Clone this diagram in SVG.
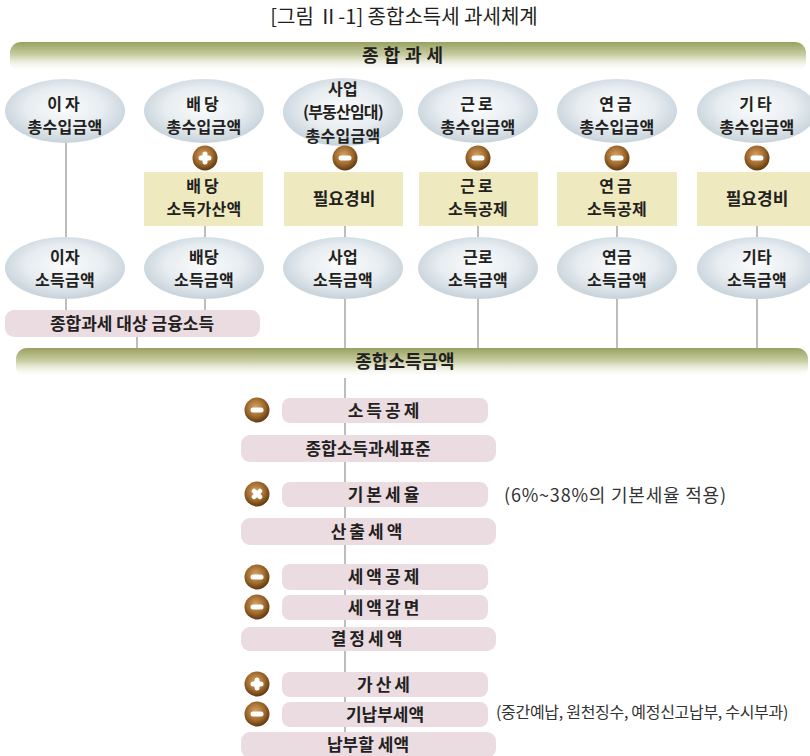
<svg xmlns="http://www.w3.org/2000/svg" width="810" height="756" viewBox="0 0 810 756">
<defs>
<linearGradient id="olive" x1="0" y1="0" x2="0" y2="1">
<stop offset="0" stop-color="#98A161"/>
<stop offset="0.45" stop-color="#CBD0A6"/>
<stop offset="1" stop-color="#FFFFFF" stop-opacity="0"/>
</linearGradient>
<radialGradient id="ell" cx="0.5" cy="0.45" r="0.6">
<stop offset="0" stop-color="#FBFCFD"/>
<stop offset="0.55" stop-color="#E6ECF0"/>
<stop offset="1" stop-color="#BFCCD5"/>
</radialGradient>
<radialGradient id="coin" cx="0.45" cy="0.4" r="0.6">
<stop offset="0" stop-color="#D7A569"/>
<stop offset="0.6" stop-color="#A06A2C"/>
<stop offset="1" stop-color="#5E3810"/>
</radialGradient>
<g id="minus"><circle r="12.5" fill="url(#coin)"/><rect x="-6.5" y="-2.5" width="13" height="5" rx="2.5" fill="#fff"/></g>
<g id="plus"><circle r="12.5" fill="url(#coin)"/><rect x="-6.5" y="-2.5" width="13" height="5" rx="2.5" fill="#fff"/><rect x="-2.5" y="-6.5" width="5" height="13" rx="2.5" fill="#fff"/></g>
<g id="times"><circle r="12.5" fill="url(#coin)"/><g transform="rotate(45)"><rect x="-6.5" y="-2.3" width="13" height="4.6" rx="2.3" fill="#fff"/><rect x="-2.3" y="-6.5" width="4.6" height="13" rx="2.3" fill="#fff"/></g></g>
</defs>
<style>
text{font-family:"Noto Sans CJK KR","Noto Sans",sans-serif;fill:#231F20;text-anchor:middle}
.t{font-size:17px;font-weight:bold}
.m{font-size:16px;font-weight:bold;letter-spacing:0.3px}
.ti{font-size:20px;font-weight:normal}
.bar{font-size:18px;font-weight:bold}
.note{font-weight:normal;text-anchor:start;fill:#333}
.sp{letter-spacing:3px}
.e{fill:url(#ell)}
.y{fill:#EEE9BF}
.p{fill:#EBDCE2}
.ln{stroke:#9A9A9A;stroke-width:1.3;fill:none}
</style>

<text class="ti" x="404" y="24">[그림 Ⅱ-1] 종합소득세 과세체계</text>

<g id="connectors">
<line class="ln" x1="66" y1="142" x2="66" y2="238"/>
<line class="ln" x1="205" y1="226" x2="205" y2="238"/>
<line class="ln" x1="345" y1="226" x2="345" y2="238"/>
<line class="ln" x1="478" y1="226" x2="478" y2="238"/>
<line class="ln" x1="617" y1="226" x2="617" y2="238"/>
<line class="ln" x1="757" y1="226" x2="757" y2="238"/>
<line class="ln" x1="66" y1="298" x2="66" y2="311"/>
<line class="ln" x1="205" y1="298" x2="205" y2="311"/>
<line class="ln" x1="137" y1="337" x2="137" y2="350"/>
<line class="ln" x1="345" y1="298" x2="345" y2="350"/>
<line class="ln" x1="478" y1="298" x2="478" y2="350"/>
<line class="ln" x1="617" y1="298" x2="617" y2="350"/>
<line class="ln" x1="757" y1="298" x2="757" y2="350"/>
<line class="ln" x1="345" y1="378" x2="345" y2="740"/>
</g>

<g id="bar-top"><rect x="10" y="42" width="796" height="30" rx="11" fill="url(#olive)"/><text class="bar" x="405" y="62" style="letter-spacing:5px">종합과세</text></g>

<g id="n-ija1"><ellipse class="e" cx="65" cy="111" rx="60" ry="32"/><text class="m" x="65" y="110"><tspan class="sp">이자</tspan><tspan x="65" dy="23.4">총수입금액</tspan></text></g>
<g id="n-bae1"><ellipse class="e" cx="204" cy="111" rx="60" ry="32"/><text class="m" x="204" y="110"><tspan class="sp">배당</tspan><tspan x="204" dy="23.4">총수입금액</tspan></text></g>
<g id="n-sa1"><ellipse class="e" cx="343" cy="112" rx="60" ry="34"/><text class="m" x="343" y="95">사업<tspan x="343" dy="23.4" style="letter-spacing:-0.8px">(부동산임대)</tspan><tspan x="343" dy="23.4">총수입금액</tspan></text></g>
<g id="n-geun1"><ellipse class="e" cx="478" cy="111" rx="60" ry="32"/><text class="m" x="478" y="110"><tspan class="sp">근로</tspan><tspan x="478" dy="23.4">총수입금액</tspan></text></g>
<g id="n-yeon1"><ellipse class="e" cx="617" cy="111" rx="60" ry="32"/><text class="m" x="617" y="110"><tspan class="sp">연금</tspan><tspan x="617" dy="23.4">총수입금액</tspan></text></g>
<g id="n-gita1"><ellipse class="e" cx="757" cy="111" rx="60" ry="32"/><text class="m" x="757" y="110"><tspan class="sp">기타</tspan><tspan x="757" dy="23.4">총수입금액</tspan></text></g>

<g id="op-bae"><use href="#plus" x="205" y="158"/></g>
<g id="op-sa"><use href="#minus" x="345" y="158"/></g>
<g id="op-geun"><use href="#minus" x="478" y="158"/></g>
<g id="op-yeon"><use href="#minus" x="617" y="158"/></g>
<g id="op-gita"><use href="#minus" x="757" y="158"/></g>

<g id="n-bae-add"><rect class="y" x="144" y="172" width="119" height="54"/><text class="m" x="204" y="192"><tspan class="sp">배당</tspan><tspan x="204" dy="23.4">소득가산액</tspan></text></g>
<g id="n-sa-exp"><rect class="y" x="284" y="172" width="119" height="54"/><text class="t" x="344" y="205">필요경비</text></g>
<g id="n-geun-ded"><rect class="y" x="419" y="172" width="119" height="54"/><text class="m" x="478" y="192"><tspan class="sp">근로</tspan><tspan x="478" dy="23.4">소득공제</tspan></text></g>
<g id="n-yeon-ded"><rect class="y" x="557" y="172" width="120" height="54"/><text class="m" x="617" y="192"><tspan class="sp">연금</tspan><tspan x="617" dy="23.4">소득공제</tspan></text></g>
<g id="n-gita-exp"><rect class="y" x="697" y="172" width="113" height="54"/><text class="t" x="757" y="205">필요경비</text></g>

<g id="n-ija2"><ellipse class="e" cx="65" cy="268" rx="60" ry="31"/><text class="m" x="65" y="263">이자<tspan x="65" dy="23.4">소득금액</tspan></text></g>
<g id="n-bae2"><ellipse class="e" cx="204" cy="268" rx="60" ry="31"/><text class="m" x="204" y="263">배당<tspan x="204" dy="23.4">소득금액</tspan></text></g>
<g id="n-sa2"><ellipse class="e" cx="343" cy="268" rx="60" ry="31"/><text class="m" x="343" y="263">사업<tspan x="343" dy="23.4">소득금액</tspan></text></g>
<g id="n-geun2"><ellipse class="e" cx="478" cy="268" rx="60" ry="31"/><text class="m" x="478" y="263">근로<tspan x="478" dy="23.4">소득금액</tspan></text></g>
<g id="n-yeon2"><ellipse class="e" cx="617" cy="268" rx="60" ry="31"/><text class="m" x="617" y="263">연금<tspan x="617" dy="23.4">소득금액</tspan></text></g>
<g id="n-gita2"><ellipse class="e" cx="757" cy="268" rx="60" ry="31"/><text class="m" x="757" y="263">기타<tspan x="757" dy="23.4">소득금액</tspan></text></g>

<g id="n-fin"><rect class="p" x="5" y="310" width="255" height="27" rx="9"/><text class="t" x="132" y="330">종합과세 대상 금융소득</text></g>

<g id="bar-total"><rect x="16" y="348" width="792" height="30" rx="11" fill="url(#olive)"/><text class="bar" x="405" y="368">종합소득금액</text></g>

<g id="n-ded"><use href="#minus" x="257" y="410"/><rect class="p" x="282" y="398" width="206" height="25" rx="8"/><text class="t sp" x="385" y="417">소득공제</text></g>
<g id="n-base"><rect class="p" x="241" y="435" width="255" height="27" rx="9"/><text class="t" x="368" y="455">종합소득과세표준</text></g>
<g id="n-rate"><use href="#times" x="257" y="494"/><rect class="p" x="282" y="482" width="206" height="25" rx="8"/><text class="t sp" x="385" y="501">기본세율</text></g>
<g id="n-calc"><rect class="p" x="241" y="518" width="255" height="27" rx="9"/><text class="t sp" x="368" y="538">산출세액</text></g>
<g id="n-credit"><use href="#minus" x="257" y="577"/><rect class="p" x="282" y="564" width="206" height="26" rx="8"/><text class="t sp" x="385" y="583">세액공제</text></g>
<g id="n-reduce"><use href="#minus" x="257" y="607"/><rect class="p" x="282" y="595" width="206" height="25" rx="8"/><text class="t sp" x="385" y="614">세액감면</text></g>
<g id="n-det"><rect class="p" x="241" y="627" width="255" height="24" rx="9"/><text class="t sp" x="368" y="645">결정세액</text></g>
<g id="n-add"><use href="#plus" x="257" y="684"/><rect class="p" x="282" y="672" width="206" height="25" rx="8"/><text class="t sp" x="385" y="691">가산세</text></g>
<g id="n-prepaid"><use href="#minus" x="257" y="714"/><rect class="p" x="282" y="702" width="206" height="25" rx="8"/><text class="t" x="385" y="721">기납부세액</text></g>
<g id="n-pay"><rect class="p" x="241" y="732" width="255" height="26" rx="9"/><text class="t" x="368" y="751">납부할 세액</text></g>

<text class="note" x="504" y="502" style="font-size:18px;letter-spacing:0.8px">(6%~38%의 기본세율 적용)</text>
<text class="note" x="496" y="718" style="font-size:16px;letter-spacing:-0.3px">(중간예납, 원천징수, 예정신고납부, 수시부과)</text>
</svg>
